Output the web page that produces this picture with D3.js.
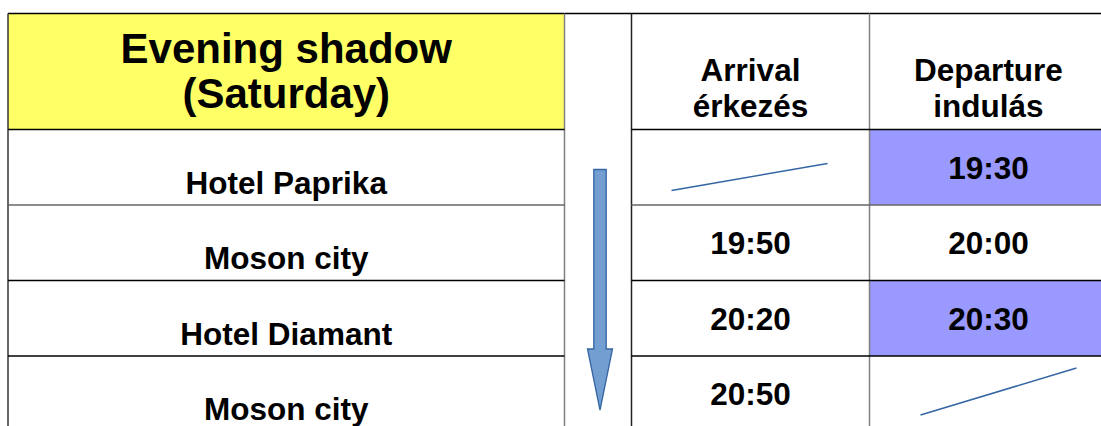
<!DOCTYPE html>
<html lang="en">
<head>
    <meta charset="UTF-8">
    <title>Evening shadow timetable</title>
    <script src="https://d3js.org/d3.v7.min.js"></script>
    <style>
        body { margin: 0; background: #fff; }
        text { font-family: "Liberation Sans", Arial, sans-serif; font-weight: bold; fill: #000; }
    </style>
</head>
<body>
    <div id="chart"></div>

    <script>

        var titleLines = ["Evening shadow", "(Saturday)"];
        var stops = ["Hotel Paprika", "Moson city", "Hotel Diamant", "Moson city"];
        var arrivals = [null, "19:50", "20:20", "20:50"];
        var departures = ["19:30", "20:00", "20:30", null];
        var highlighted = [true, false, true, false];
        var columnHeads = [["Arrival", "érkezés"], ["Departure", "indulás"]];

        var w = 1101;
        var h = 426;
        var svg = d3.select("#chart").append("svg")
            .attr("width", w)
            .attr("height", h);

        var tableTop = 13.5, headBottom = 129.5;

        // body rows
        var yScale = d3.scaleBand()
            .domain(d3.range(stops.length))
            .range([headBottom, headBottom + 302]);
        var rowH = yScale.bandwidth();

        var leftX0 = 8, leftX1 = 564.5;
        var xScale = d3.scaleBand()
            .domain([0, 1])
            .range([631.5, 1107.5]);
        var colW = xScale.bandwidth();

        // header fill
        svg.append("rect")
            .attr("x", leftX0).attr("y", tableTop)
            .attr("width", leftX1 - leftX0).attr("height", headBottom - tableTop)
            .attr("fill", "#ffff66");

        // highlighted departure cells
        svg.selectAll("rect.hl")
            .data(departures.map(function(d, i) { return i; }).filter(function(i) { return highlighted[i]; }))
            .enter()
            .append("rect")
            .attr("class", "hl")
            .attr("x", xScale(1))
            .attr("y", function(i) { return yScale(i); })
            .attr("width", colW)
            .attr("height", rowH)
            .attr("fill", "#9999ff");

        // grid lines
        var grid = svg.append("g").attr("fill", "none").attr("stroke-width", 1.5);
        grid.append("line").attr("x1", leftX0).attr("x2", w).attr("y1", tableTop).attr("y2", tableTop).attr("stroke", "#000");
        grid.append("line").attr("x1", leftX0).attr("x2", leftX0).attr("y1", tableTop).attr("y2", h).attr("stroke", "#333");
        grid.append("line").attr("x1", leftX1).attr("x2", leftX1).attr("y1", tableTop).attr("y2", h).attr("stroke", "#808080");
        grid.append("line").attr("x1", xScale(0)).attr("x2", xScale(0)).attr("y1", tableTop).attr("y2", h).attr("stroke", "#222");
        grid.append("line").attr("x1", xScale(1)).attr("x2", xScale(1)).attr("y1", tableTop).attr("y2", h).attr("stroke", "#808080");

        var hLines = [headBottom].concat(d3.range(1, stops.length).map(function(i) { return yScale(i); }));
        hLines.forEach(function(y, i) {
            var col = i === 1 ? "#666" : "#000";
            grid.append("line").attr("x1", leftX0).attr("x2", leftX1).attr("y1", y).attr("y2", y).attr("stroke", col);
            grid.append("line").attr("x1", xScale(0)).attr("x2", w).attr("y1", y).attr("y2", y).attr("stroke", col);
        });

        // title
        svg.append("g").selectAll("text")
            .data(titleLines)
            .enter()
            .append("text")
            .attr("x", (leftX0 + leftX1) / 2)
            .attr("y", function(d, i) { return 63 + i * 45; })
            .attr("text-anchor", "middle")
            .style("font-size", "42px")
            .text(function(d) { return d; });

        // column headings
        columnHeads.forEach(function(lines, c) {
            svg.append("g").selectAll("text")
                .data(lines)
                .enter()
                .append("text")
                .attr("x", xScale(c) + colW / 2)
                .attr("y", function(d, i) { return 81 + i * 36; })
                .attr("text-anchor", "middle")
                .style("font-size", "31.5px")
                .text(function(d) { return d; });
        });

        // stop names
        svg.append("g").selectAll("text")
            .data(stops)
            .enter()
            .append("text")
            .attr("x", (leftX0 + leftX1) / 2)
            .attr("y", function(d, i) { return yScale(i) + 64; })
            .attr("text-anchor", "middle")
            .style("font-size", "31.5px")
            .text(function(d) { return d; });

        // times
        [arrivals, departures].forEach(function(col, c) {
            svg.append("g").selectAll("text")
                .data(col.map(function(d, i) { return { t: d, i: i }; }).filter(function(d) { return d.t; }))
                .enter()
                .append("text")
                .attr("x", xScale(c) + colW / 2)
                .attr("y", function(d) { return yScale(d.i) + 49; })
                .attr("text-anchor", "middle")
                .style("font-size", "31.5px")
                .text(function(d) { return d.t; });
        });

        // strike lines for empty cells
        var strike = [
            { a: [40, 61], b: [196, 34] },
            { a: [51, 59], b: [207, 12] }
        ];
        [arrivals, departures].forEach(function(col, c) {
            col.forEach(function(d, i) {
                if (d) return;
                var s = strike[c];
                svg.append("line")
                    .attr("x1", xScale(c) + s.a[0]).attr("y1", yScale(i) + s.a[1])
                    .attr("x2", xScale(c) + s.b[0]).attr("y2", yScale(i) + s.b[1])
                    .attr("stroke", "#3465a4")
                    .attr("stroke-width", 1.5);
            });
        });

        // downward arrow
        var ax = 600, aTop = yScale(0) + 40, aTip = yScale(stops.length - 1) + 54;
        var headTop = aTip - 61, shaft = 6.2, head = 12.5;
        var arrow = d3.path();
        arrow.moveTo(ax - shaft, aTop);
        arrow.lineTo(ax + shaft, aTop);
        arrow.lineTo(ax + shaft, headTop);
        arrow.lineTo(ax + head, headTop);
        arrow.lineTo(ax, aTip);
        arrow.lineTo(ax - head, headTop);
        arrow.lineTo(ax - shaft, headTop);
        arrow.closePath();
        svg.append("path")
            .attr("d", arrow.toString())
            .attr("fill", "#729fcf")
            .attr("stroke", "#3465a4")
            .attr("stroke-width", 1.3);
    </script>
</body>
</html>
